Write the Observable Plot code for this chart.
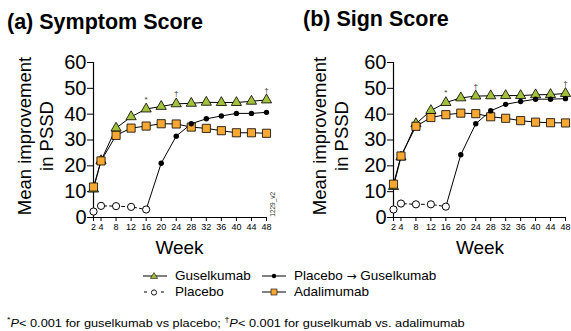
<!DOCTYPE html>
<html><head><meta charset="utf-8">
<script src="https://cdn.jsdelivr.net/npm/d3@7"></script>
<script src="https://cdn.jsdelivr.net/npm/@observablehq/plot@0.6"></script>
<style>
body{margin:0;background:#fff;font-family:"Liberation Sans",Arial,Helvetica,sans-serif;color:#000;}
#wrap{position:relative;width:571px;height:331px;overflow:hidden;background:#fff;}
.abs{position:absolute;white-space:nowrap;line-height:1;}
.plot{position:absolute;top:0;}
.ytitle{position:absolute;width:180px;height:44px;line-height:22px;font-size:18.5px;text-align:center;transform:rotate(-90deg);white-space:nowrap;}
</style></head><body><div id="wrap"></div>
<script>
// ---- data ----
const weeks = [2,4,8,12,16,20,24,28,32,36,40,44,48];
const placeboWeeks = [2,4,8,12,16];
const pboGusWeeks = [16,20,24,28,32,36,40,44,48];
const xTicks = [2,4,8,12,16,20,24,28,32,36,40,44,48];
const yTicks = [0,10,20,30,40,50,60];

// (a) Symptom score
const gusA    = [11.0,22.0,34.6,39.0,42.0,43.0,44.0,44.2,44.6,44.5,44.5,45.0,45.5];
const adaA    = [11.8,21.9,31.8,34.6,35.4,36.3,36.2,35.0,34.5,33.6,32.8,32.8,32.6];
const pboA    = [2.3,4.5,4.4,4.1,3.1];
const pboGusA = [3.1,21.0,31.5,36.3,38.2,39.3,40.3,40.3,40.7];
// (b) Sign score
const gusB    = [12.0,23.4,36.3,41.4,44.5,46.3,47.0,47.1,47.2,47.2,47.5,47.6,48.0];
const adaB    = [12.9,23.8,35.3,38.7,39.8,40.4,40.2,39.0,38.4,37.5,36.9,36.7,36.6];
const pboB    = [3.1,5.4,5.1,5.1,4.2];
const pboGusB = [4.2,24.3,36.3,41.3,43.8,44.9,45.8,45.8,46.0];

// significance markers (week, symbol)
const sigWeeks = [16,24,48];
const sigLabels = ["*","\u2020","\u2020"];

const GREEN = "#a3c13c", ORANGE = "#f7a833";
const FONT = "'Liberation Sans', Arial, Helvetica, sans-serif";

function panel(gus, ada, pbo, pboGus, width, marginRight) {
  const gusData = weeks.map((w,i)=>({week:w, v:gus[i]}));
  const adaData = weeks.map((w,i)=>({week:w, v:ada[i]}));
  const pboData = placeboWeeks.map((w,i)=>({week:w, v:pbo[i]}));
  const pgData  = pboGusWeeks.map((w,i)=>({week:w, v:pboGus[i]}));
  const sigData = sigWeeks.map((w,i)=>({week:w, v:gus[weeks.indexOf(w)], t:sigLabels[i]}));
  return Plot.plot({
    width, height: 240,
    marginLeft: 93, marginRight, marginTop: 62, marginBottom: 23,
    x: {domain:[2,48], axis:null},
    y: {domain:[0,60], axis:null},
    style: {fontFamily: FONT, background:"transparent", overflow:"visible", color:"#000"},
    marks: [
      Plot.axisY({ticks: yTicks, tickSize: 6, tickPadding: 1, fontSize: 20, label: null, stroke:"#000", fill:"#000"}),
      Plot.axisX({ticks: xTicks, tickSize: 4, tickPadding: 2, fontSize: 9, label: null, stroke:"#000", fill:"#000"}),
      Plot.ruleX([2], {y1:0, y2:60, stroke:"#000", strokeWidth:1.2}),
      Plot.ruleY([0], {x1:2, x2:48, stroke:"#000", strokeWidth:1.2}),
      Plot.line(pboData, {x:"week", y:"v", stroke:"#000", strokeWidth:1, strokeDasharray:"3,3"}),
      Plot.line(pgData,  {x:"week", y:"v", stroke:"#000", strokeWidth:1}),
      Plot.line(adaData, {x:"week", y:"v", stroke:"#000", strokeWidth:1}),
      Plot.line(gusData, {x:"week", y:"v", stroke:"#000", strokeWidth:1}),
      Plot.dot(gusData, {x:"week", y:"v", symbol:"triangle", r:3.8, fill:GREEN, stroke:"#000", strokeWidth:0.8}),
      Plot.dot(adaData, {x:"week", y:"v", symbol:"square", r:4.6, fill:ORANGE, stroke:"#000", strokeWidth:0.8}),
      Plot.dot(pgData.slice(1), {x:"week", y:"v", r:2.7, fill:"#000", stroke:"none"}),
      Plot.dot(pboData, {x:"week", y:"v", r:3.6, fill:"#fff", stroke:"#000", strokeWidth:1}),
      Plot.text(sigData, {x:"week", y:"v", text:"t", dy:-10, fontSize:8, fill:"#333"})
    ]
  });
}

const wrap = document.getElementById("wrap");
function addText(html, left, baseline, size, extra) {
  const d = document.createElement("div");
  d.className = "abs";
  d.style.left = left + "px";
  d.style.top = (baseline - 0.8465*size) + "px";
  d.style.fontSize = size + "px";
  if (extra) Object.assign(d.style, extra);
  d.innerHTML = html;
  wrap.appendChild(d);
  return d;
}

const pa = panel(gusA, adaA, pboA, pboGusA, 290, 24);
pa.classList.add("plot"); pa.style.left = "0px";
wrap.appendChild(pa);
const pb = panel(gusB, adaB, pboB, pboGusB, 271, 6);
pb.classList.add("plot"); pb.style.left = "300px";
wrap.appendChild(pb);

// titles
addText("(a) Symptom Score", 7, 30, 21.5, {fontWeight:"bold"});
addText("(b) Sign Score", 303, 27, 21.5, {fontWeight:"bold"});

// y titles
function yTitle(cx, cy) {
  const d = document.createElement("div");
  d.className = "ytitle";
  d.style.left = (cx - 90) + "px";
  d.style.top = (cy - 22) + "px";
  d.innerHTML = "Mean improvement<br>in PSSD";
  wrap.appendChild(d);
}
yTitle(35.6, 135.5);
yTitle(331, 135.5);

// x titles
addText("Week", 0, 254, 19, {width:"359px", textAlign:"center"});
addText("Week", 300, 254, 19, {width:"360px", textAlign:"center"});

// code label
const code = document.createElement("div");
code.className = "abs";
code.style.fontSize = "6.5px";
code.style.color = "#333";
code.style.width = "40px";
code.style.textAlign = "center";
code.style.left = (273 - 20) + "px";
code.style.top = (204 - 3.25) + "px";
code.style.transform = "rotate(-90deg)";
code.textContent = "1229_v2";
wrap.appendChild(code);

// legend
function swatch(kind, left, cy) {
  const ns = "http://www.w3.org/2000/svg";
  const s = document.createElementNS(ns, "svg");
  s.setAttribute("width", 26); s.setAttribute("height", 12);
  s.style.position = "absolute"; s.style.left = left + "px"; s.style.top = (cy - 6) + "px";
  let inner = "";
  if (kind === "pbo") {
    inner = '<line x1="1" y1="6" x2="4" y2="6" stroke="#000" stroke-width="1"/><line x1="18" y1="6" x2="21" y2="6" stroke="#000" stroke-width="1"/><circle cx="11" cy="6.5" r="2.6" fill="#fff" stroke="#000" stroke-width="0.9"/>';
  } else {
    inner = '<line x1="0" y1="6" x2="24" y2="6" stroke="#000" stroke-width="1"/>';
    if (kind === "gus") inner += '<path d="M11,2.6 L14.6,8.4 L7.4,8.4 Z" fill="' + GREEN + '" stroke="#000" stroke-width="0.6"/>';
    if (kind === "pg") inner += '<circle cx="12" cy="6" r="2.2" fill="#000"/>';
    if (kind === "ada") inner += '<rect x="9" y="3" width="6" height="6" fill="' + ORANGE + '" stroke="#000" stroke-width="0.6"/>';
  }
  s.innerHTML = inner;
  wrap.appendChild(s);
}
swatch("gus", 143, 276);
addText("Guselkumab", 175, 280, 13.5);
swatch("pg", 262, 276);
addText('Placebo <span style="font-family:\'DejaVu Sans\';font-size:12px">\u2192</span> Guselkumab', 294, 280, 13.5);
swatch("pbo", 143, 292);
addText("Placebo", 175, 296, 13.5);
swatch("ada", 262, 292);
addText("Adalimumab", 294, 296, 13.5);

// footnote
addText('<sup style="font-size:8px">*</sup><i>P</i>&lt; 0.001 for guselkumab vs placebo; <sup style="font-size:8px">\u2020</sup><i>P</i>&lt; 0.001 for guselkumab vs. adalimumab', 7, 326, 11.5, {transform:"scaleX(1.11)", transformOrigin:"0 0"});
</script></body></html>
